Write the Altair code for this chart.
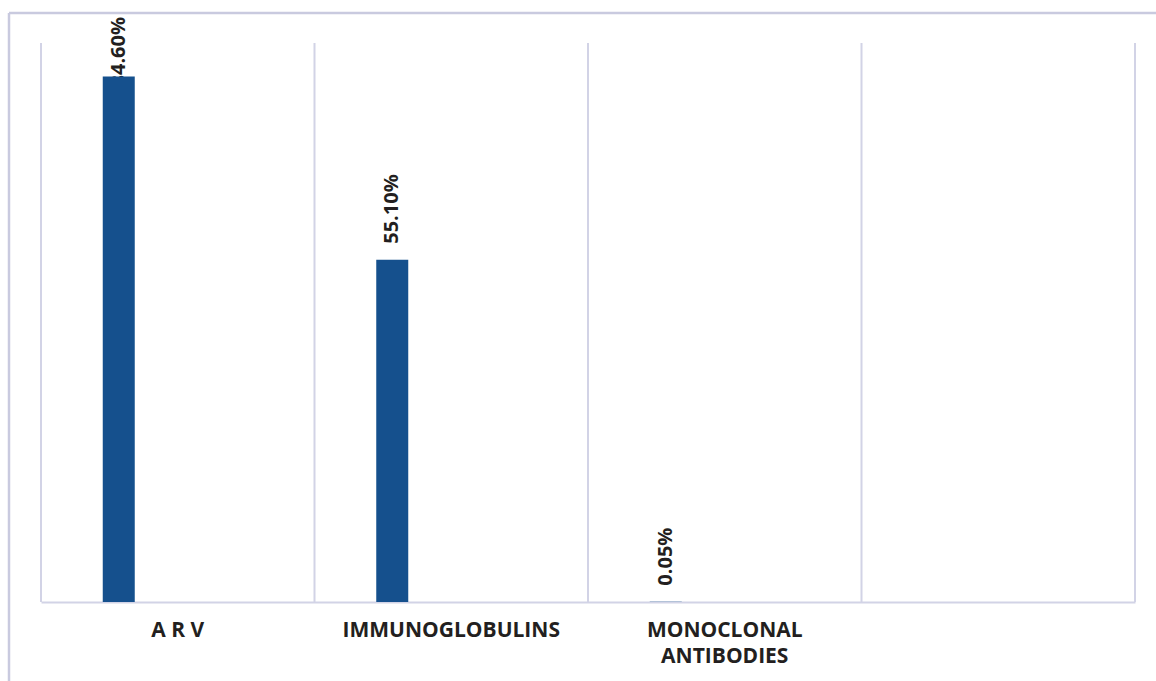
import altair as alt
import pandas as pd

# Share of each product group (percent); the last band is left empty
categories = ["A R V", "IMMUNOGLOBULINS", "MONOCLONAL ANTIBODIES", ""]
shares = [84.60, 55.10, 0.05]

BAR_BLUE = "#15508D"
GRID = "#D2D3E6"
FRAME = "#C9CADF"
INK = "#231F20"
FONT = "Open Sans"

W, H = 1094, 559
BAR_SHIFT = -59  # bars sit left of the band centre

bars_df = pd.DataFrame({"category": categories[: len(shares)], "share": shares})
bands_df = pd.DataFrame({"category": categories})
edge_df = pd.DataFrame({"edge": ["frame"]})

x_scale = alt.Scale(domain=categories, paddingInner=0, paddingOuter=0)
y_scale = alt.Scale(domain=[0, 90], nice=False, zero=True)

x_axis = alt.Axis(
    title=None,
    labelAngle=0,
    labelFont=FONT,
    labelFontWeight="bold",
    labelFontSize=21,
    labelColor=INK,
    labelPadding=17,
    labelLineHeight=26,
    labelLimit=400,
    ticks=False,
    grid=False,
    domainColor=GRID,
    domainWidth=2,
    labelExpr="length(datum.label) > 16 ? split(datum.label, ' ') : datum.label",
)


def xcat(**kw):
    return alt.X("category:N", scale=x_scale, sort=categories, axis=x_axis, **kw)


# vertical separators at the band edges
grid = alt.Chart(bands_df).mark_rule(color=GRID, strokeWidth=2).encode(
    x=xcat(bandPosition=0)
)
grid_end = (
    alt.Chart(bands_df)
    .transform_filter(alt.datum.category == categories[-1])
    .mark_rule(color=GRID, strokeWidth=2)
    .encode(x=xcat(bandPosition=1))
)

base = alt.Chart(bars_df).transform_calculate(
    label="format(datum.share, '.2f') + '%'"
)

text_style = dict(
    angle=270,
    baseline="middle",
    font=FONT,
    fontWeight="bold",
    fontSize=20,
    color=INK,
    xOffset=BAR_SHIFT,
)

# labels placed just above their bar
labels = (
    base.transform_filter("datum.share < 80")
    .mark_text(align="left", dx=16, **text_style)
    .encode(
        x=xcat(),
        y=alt.Y("share:Q", scale=y_scale, axis=None),
        text="label:N",
    )
)
# labels too tall to fit above the bar are pinned to the top edge
labels_top = (
    base.transform_filter("datum.share >= 80")
    .mark_text(align="right", **text_style)
    .encode(x=xcat(), y=alt.value(-26), text="label:N")
)

bars = base.mark_bar(width=32, xOffset=BAR_SHIFT, color=BAR_BLUE).encode(
    x=xcat(),
    y=alt.Y("share:Q", scale=y_scale, axis=None),
)

frame_top = alt.Chart(edge_df).mark_rule(color=FRAME, strokeWidth=2.5).encode(
    x=alt.value(-32), x2=alt.value(1200), y=alt.value(-30)
)
frame_left = alt.Chart(edge_df).mark_rule(color=FRAME, strokeWidth=2.5).encode(
    x=alt.value(-32), y=alt.value(-30), y2=alt.value(700)
)

chart = (
    alt.layer(grid, grid_end, labels, labels_top, bars, frame_top, frame_left)
    .properties(
        width=W,
        height=H,
        padding={"left": 41, "top": 43, "right": 21, "bottom": 79},
        autosize=alt.AutoSizeParams(type="none"),
        background="white",
    )
    .configure_view(stroke=None)
)

chart.save("out.html", embed_options={"renderer": "svg", "actions": False})
